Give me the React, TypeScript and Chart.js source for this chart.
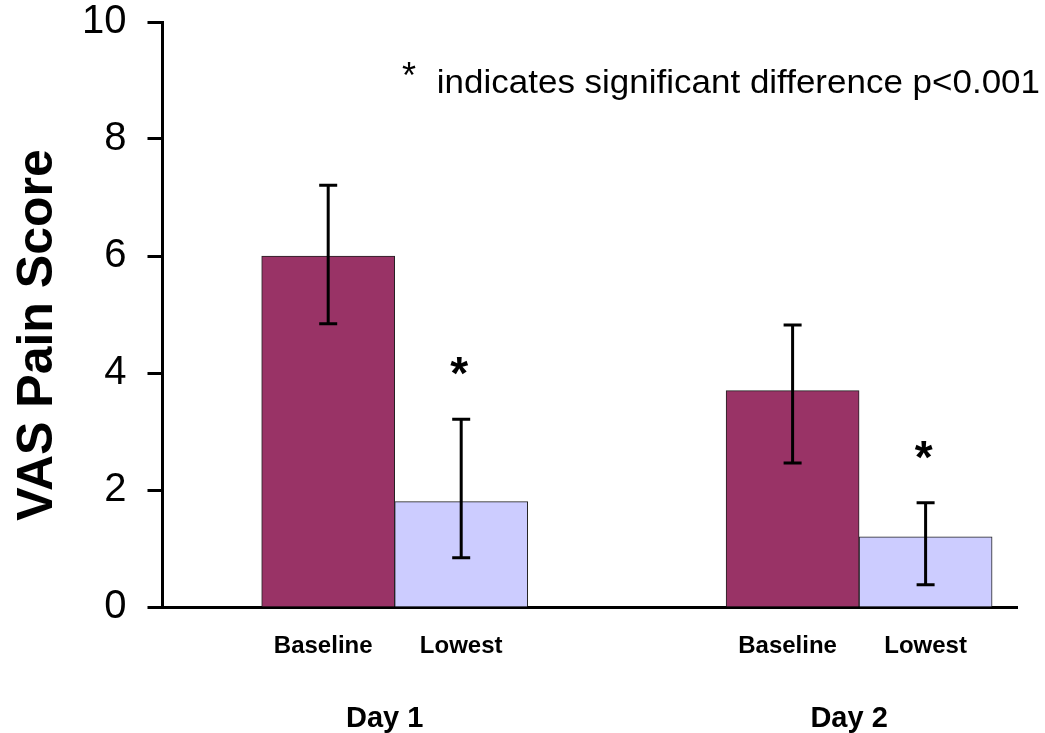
import React, { useEffect, useRef } from 'react';
import { Chart, registerables } from 'chart.js';

Chart.register(...registerables);

// ---- data ----
const dayLabels = ['Day 1', 'Day 2'];
const dayPositions = [1, 2];
const seriesNames = ['Baseline', 'Lowest'];
const baselineValues = [6.0, 3.7];
const lowestValues = [1.8, 1.2];
const baselineErrHigh = [7.21, 4.82];
const baselineErrLow = [4.84, 2.46];
const lowestErrHigh = [3.21, 1.78];
const lowestErrLow = [0.84, 0.38];
const baselineSignificant = [false, false];
const lowestSignificant = [true, true];
const yTitle = 'VAS Pain Score';
const noteText = 'indicates significant difference p<0.001';

const FONT = '"Liberation Sans", Arial, sans-serif';

const errorBarPlugin = {
  id: 'errorBars',
  afterDatasetsDraw(chart: any) {
    const ctx = chart.ctx;
    const y = chart.scales.y;
    chart.data.datasets.forEach((ds: any, di: number) => {
      const meta = chart.getDatasetMeta(di);
      meta.data.forEach((bar: any, i: number) => {
        const hi = y.getPixelForValue(ds.errHigh[i]);
        const lo = y.getPixelForValue(ds.errLow[i]);
        const cx = bar.x;
        ctx.save();
        ctx.strokeStyle = '#000';
        ctx.lineWidth = 3;
        ctx.beginPath();
        ctx.moveTo(cx, hi);
        ctx.lineTo(cx, lo);
        ctx.moveTo(cx - 9, hi);
        ctx.lineTo(cx + 9, hi);
        ctx.moveTo(cx - 9, lo);
        ctx.lineTo(cx + 9, lo);
        ctx.stroke();
        if (ds.sig[i]) {
          ctx.fillStyle = '#000';
          ctx.font = `bold 46px ${FONT}`;
          ctx.textAlign = 'center';
          ctx.textBaseline = 'alphabetic';
          ctx.fillText('*', cx - 2, hi - 30);
        }
        ctx.restore();
      });
    });
  },
};

const labelPlugin = {
  id: 'groupLabels',
  afterDraw(chart: any) {
    const ctx = chart.ctx;
    const x = chart.scales.x;
    const y = chart.scales.y;
    ctx.save();
    ctx.fillStyle = '#000';
    ctx.textBaseline = 'alphabetic';
    ctx.textAlign = 'center';
    // sub labels under each bar
    chart.data.datasets.forEach((ds: any, di: number) => {
      const meta = chart.getDatasetMeta(di);
      ctx.font = `bold 24px ${FONT}`;
      meta.data.forEach((bar: any) => {
        ctx.fillText(ds.label, bar.x - (di === 0 ? 5 : 0), 653);
      });
    });
    // day labels
    ctx.font = `bold 29px ${FONT}`;
    dayPositions.forEach((p, i) => {
      ctx.fillText(dayLabels[i], x.getPixelForValue(p) - 10, 727);
    });
    // significance note
    ctx.font = `36px ${FONT}`;
    ctx.textAlign = 'left';
    ctx.fillText('*', 402, 88);
    ctx.save();
    ctx.font = `33px ${FONT}`;
    ctx.textAlign = 'right';
    ctx.translate(1040, 93);
    ctx.scale(1.06, 1);
    ctx.fillText(noteText, 0, 0);
    ctx.restore();
    // y axis title
    ctx.save();
    ctx.font = `bold 50px ${FONT}`;
    ctx.textAlign = 'center';
    ctx.translate(52, y.getPixelForValue(4.65));
    ctx.rotate(-Math.PI / 2);
    ctx.fillText(yTitle, 0, 0);
    ctx.restore();
    ctx.restore();
  },
};

export default function App() {
  const ref = useRef<HTMLCanvasElement>(null);
  useEffect(() => {
    document.body.style.margin = '0';
    const canvas = ref.current!;
    const chart = new Chart(canvas, {
      type: 'bar',
      data: {
        datasets: [
          {
            label: seriesNames[0],
            data: dayPositions.map((p, i) => ({ x: p, y: baselineValues[i] })),
            backgroundColor: '#993366',
            borderColor: '#222',
            borderWidth: 1,
            errHigh: baselineErrHigh,
            errLow: baselineErrLow,
            sig: baselineSignificant,
          } as any,
          {
            label: seriesNames[1],
            data: dayPositions.map((p, i) => ({ x: p, y: lowestValues[i] })),
            backgroundColor: '#CCCCFF',
            borderColor: '#222',
            borderWidth: 1,
            errHigh: lowestErrHigh,
            errLow: lowestErrLow,
            sig: lowestSignificant,
          } as any,
        ],
      },
      options: {
        responsive: false,
        animation: false,
        devicePixelRatio: 1,
        barThickness: 133,
        layout: { padding: { left: 61, top: 22, right: 28, bottom: 126 } },
        plugins: { legend: { display: false }, tooltip: { enabled: false } },
        scales: {
          x: {
            type: 'linear',
            offset: false,
            min: 0.5,
            max: 2.34,
            ticks: { display: false },
            grid: { display: false, drawTicks: false, offset: false },
            border: { display: true, color: '#000', width: 3 },
          },
          y: {
            min: 0,
            max: 10,
            afterFit: (s: any) => {
              s.paddingTop = 0;
              s.paddingBottom = 0;
            },
            ticks: {
              stepSize: 2,
              color: '#000',
              padding: 21,
              font: { family: FONT, size: 40, lineHeight: 1 },
            },
            grid: {
              drawOnChartArea: false,
              drawTicks: true,
              tickLength: 15,
              tickWidth: 3,
              tickColor: '#000',
            },
            border: { display: true, color: '#000', width: 3 },
            title: { display: false, text: yTitle },
          },
        },
      } as any,
      plugins: [errorBarPlugin, labelPlugin],
    });
    return () => chart.destroy();
  }, []);
  return <canvas ref={ref} width={1045} height={733} style={{ display: 'block' }} />;
}
